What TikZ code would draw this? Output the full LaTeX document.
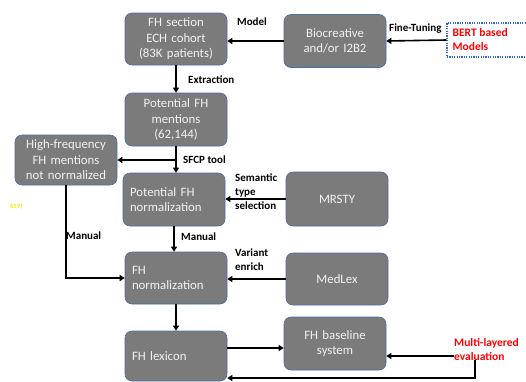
\documentclass[tikz,border=0pt]{standalone}
\usepackage{fontspec}
\setmainfont{Carlito}
\usetikzlibrary{arrows.meta}
\definecolor{boxgray}{HTML}{7B7B7B}
\definecolor{boxline}{HTML}{4A6EA0}
\definecolor{boxtext}{HTML}{F2F2F2}
\definecolor{dotblue}{HTML}{2E64D8}
\definecolor{evalred}{HTML}{FF0000}
\definecolor{markyellow}{HTML}{F5F000}
\begin{document}
\begin{tikzpicture}[x={(1pt,0)}, y={(0,-1pt)},
    box/.style = {draw=boxline, fill=boxgray, rounded corners=7pt, line width=0.6pt,
                  text=boxtext, text width=88pt, inner xsep=7pt, inner ysep=0pt,
                  minimum height=52pt, align=center,
                  font=\fontsize{12.8}{15.5}\selectfont},
    lbox/.style = {box, align=left},
    lbl/.style = {anchor=west, inner sep=0pt, align=left,
                  font=\fontsize{11}{14}\selectfont\bfseries},
    redlbl/.style = {lbl, text=evalred, font=\fontsize{11.5}{14}\selectfont\bfseries},
    flow/.style = {line width=1.6pt, -{Triangle[length=5pt,width=6pt]}} ]
    \useasboundingbox (0,0) rectangle (526,381);

    % boxes
    \node at (176,39) [box] (sec) {FH section\\ECH cohort\\(83K patients)};
    \node at (335,41) [box, minimum height=53pt] (bio) {Biocreative\\and/or I2B2};
    \node at (176,119.5) [box, minimum height=53pt] (pot) {Potential FH\\mentions\\(62,144)};
    \node at (66,160) [box, minimum height=50pt] (hf) {High-frequency\\FH mentions\\not normalized};
    \node at (174,199.5) [lbox, minimum height=53pt] (potn) {Potential FH\\normalization};
    \node at (337,199) [box, minimum height=54pt] (mrsty) {MRSTY};
    \node at (176,278) [lbox] (fhn) {FH\\normalization};
    \node at (337,279) [box] (medlex) {MedLex};
    \node at (176,356) [lbox, minimum height=50pt] (lex) {FH lexicon};
    \node at (335,343.5) [box, minimum height=53pt] (base) {FH baseline\\system};

    % dotted frame, then its red text
    \node at (487,40) [draw=dotblue, dash pattern=on 1.2pt off 1.2pt, line width=1.1pt,
          minimum width=80pt, minimum height=34pt] (bert) {};
    \node at ([xshift=6pt]bert.west) [redlbl] (berttxt) {BERT based\\Models};
    \node at (454,349) [redlbl] (eval) {Multi-layered\\evaluation};

    % labels
    \node at (237,22) [lbl] (lmodel) {Model};
    \node at (389,29) [lbl] (ltune) {Fine-Tuning};
    \node at (188,80) [lbl] (lext) {Extraction};
    \node at (183,160) [lbl] (lsfcp) {SFCP tool};
    \node at (235,192) [lbl] (lsem) {Semantic\\type\\selection};
    \node at (181,237) [lbl] (lman) {Manual};
    \node at (66,236) [lbl] (lmanl) {Manual};
    \node at (235,260) [lbl] (lvar) {Variant\\enrich};
    \node at (10,207) [anchor=west, inner sep=0pt, text=markyellow,
          font=\fontsize{6.5}{8}\selectfont\bfseries] (mark) {659|};

    \coordinate (split) at (176,160);
    \coordinate (ret) at (475,378);

    % connectors
    \draw[flow] (bert.west) -- (bio.east);
    \draw[flow] (bio.west) -- (bio.west -| sec.east);
    \draw[flow] (sec.south) -- (pot.north);
    \draw[flow] (pot.south) -- (potn.north -| pot.south);
    \draw[flow] (split) -- (split -| hf.east);
    \draw[flow] (mrsty.west) -- (mrsty.west -| potn.east);
    \draw[flow] (potn.south) -- (potn.south |- fhn.north);
    \draw[flow] (hf.south) |- (fhn.west);
    \draw[flow] (medlex.west) -- (medlex.west -| fhn.east);
    \draw[flow] (fhn.south) -- (lex.north);
    \draw[flow] ([yshift=8pt]lex.east) -- ([yshift=8pt]lex.east -| base.west);
    \draw[flow] ([yshift=-7pt]eval.west) -- ([yshift=-7pt]eval.west -| base.east);
    \draw[flow] (ret |- eval.south) -- (ret) -- (ret -| lex.east);
\end{tikzpicture}
\end{document}
